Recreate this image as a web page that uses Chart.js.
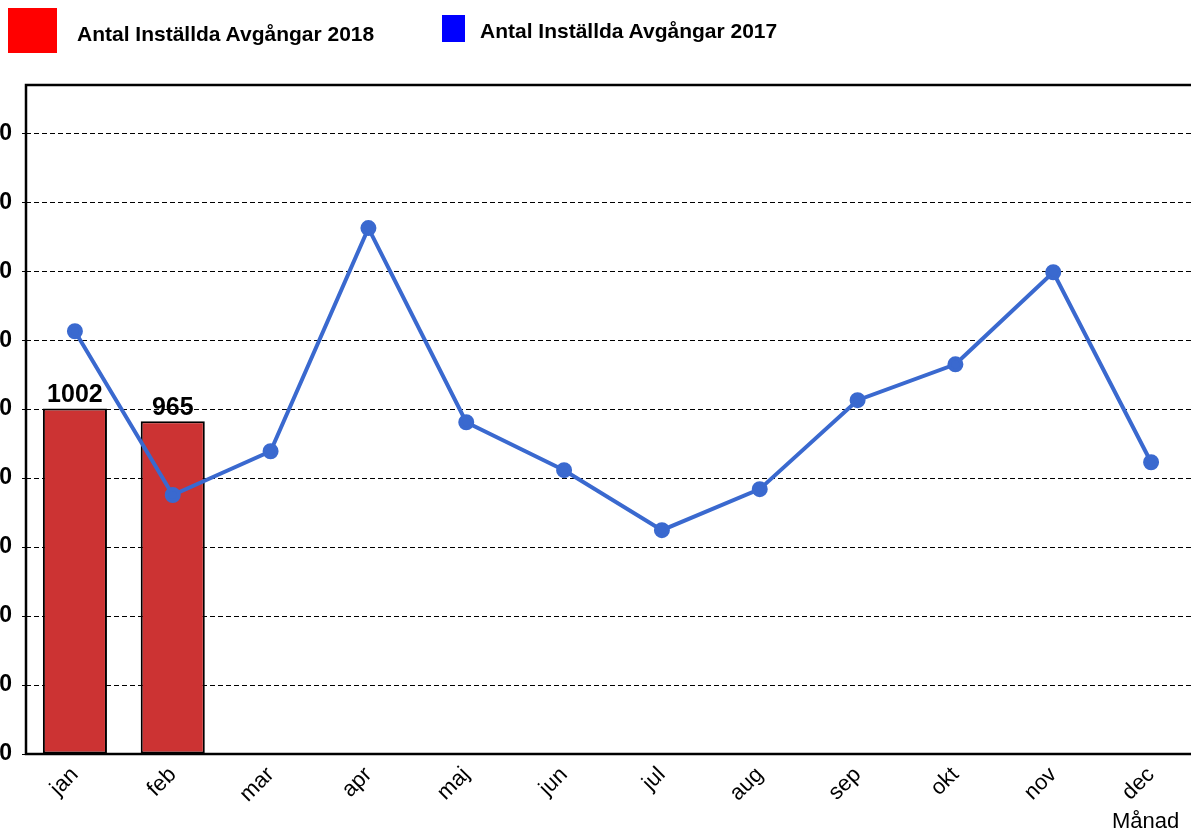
<!DOCTYPE html>
<html>
<head>
<meta charset="utf-8">
<script src="https://cdn.jsdelivr.net/npm/chart.js@4/dist/chart.umd.min.js"></script>
<style>
    body { margin: 0; background: #fff; overflow: hidden; font-family: "Liberation Sans", Arial, sans-serif; }
    #wrap { position: relative; width: 1191px; height: 831px; overflow: hidden; }
    #box { position: absolute; left: -40px; top: 0; width: 1250px; height: 831px; }
    .key { position: absolute; }
    .lbl { position: absolute; font-weight: bold; font-size: 21px; color: #000; white-space: nowrap; }
    #axisTitle { position: absolute; left: 1112px; top: 808px; font-size: 22px; color: #000; }
</style>
</head>
<body>
<div id="wrap">
    <div id="box"><canvas id="chart"></canvas></div>
    <div class="key" style="left:8px;top:8px;width:49px;height:45px;background:#ff0000"></div>
    <div class="lbl" id="lbl2018" style="left:77px;top:22px"></div>
    <div class="key" style="left:442px;top:15px;width:23px;height:27px;background:#0000ff"></div>
    <div class="lbl" id="lbl2017" style="left:480px;top:19px"></div>
    <div id="axisTitle">Månad</div>
</div>

<script>
// DATA

const months = ["jan", "feb", "mar", "apr", "maj", "jun", "jul", "aug", "sep", "okt", "nov", "dec"];
const cancelled2018 = [1002, 965];
const cancelled2017 = [1226, 751, 878, 1525, 962, 823, 649, 768, 1026, 1130, 1397, 846];
const label2018 = "Antal Inställda Avgångar 2018";
const label2017 = "Antal Inställda Avgångar 2017";

document.getElementById("lbl2018").innerText = label2018;
document.getElementById("lbl2017").innerText = label2017;

const FONT = "'Liberation Sans', Arial, sans-serif";

// FRAME + BAR VALUES

const framePlugin = {
    id: "frame",
    beforeDatasetsDraw(chart) {
        const { ctx, chartArea } = chart;
        ctx.save();
        ctx.strokeStyle = "#000";
        ctx.lineWidth = 2.5;
        ctx.strokeRect(chartArea.left, chartArea.top, chartArea.right - chartArea.left, chartArea.bottom - chartArea.top);
        ctx.restore();
    }
};

const valuePlugin = {
    id: "values",
    afterDatasetsDraw(chart) {
        const { ctx } = chart;
        const meta = chart.getDatasetMeta(0);
        ctx.save();
        ctx.font = "bold 25px " + FONT;
        ctx.fillStyle = "#000";
        ctx.textAlign = "center";
        ctx.textBaseline = "bottom";
        meta.data.forEach((bar, i) => {
            ctx.fillText(String(cancelled2018[i]), bar.x, bar.y - 1);
        });
        ctx.restore();
    }
};

// CHART

new Chart(document.getElementById("chart"), {
    type: "bar",
    data: {
        labels: months,
        datasets: [
            {
                type: "bar",
                label: label2018,
                data: cancelled2018,
                backgroundColor: "#cc3333",
                borderColor: "#000",
                borderWidth: 2,
                borderSkipped: false,
                categoryPercentage: 1,
                barPercentage: 0.655,
                order: 1
            },
            {
                type: "line",
                label: label2017,
                data: cancelled2017,
                borderColor: "#3a69cf",
                backgroundColor: "#3a69cf",
                borderWidth: 4,
                pointRadius: 6,
                pointHoverRadius: 6,
                tension: 0,
                order: 0
            }
        ]
    },
    options: {
        responsive: true,
        maintainAspectRatio: false,
        animation: false,
        layout: { padding: { top: 85, right: 1, left: 0, bottom: 0 } },
        plugins: { legend: { display: false }, tooltip: { enabled: false } },
        scales: {
            x: {
                offset: true,
                grid: { display: false, drawTicks: false },
                border: { display: false },
                ticks: {
                    color: "#000",
                    font: { family: FONT, size: 22 },
                    minRotation: 45,
                    maxRotation: 45,
                    padding: 8
                },
                afterFit(scale) { scale.height = 77; }
            },
            y: {
                min: 0,
                max: 1940,
                grid: {
                    color: "#000",
                    lineWidth: 1,
                    tickLength: 4,
                    tickColor: "#000"
                },
                border: { display: false, dash: [5, 3] },
                ticks: {
                    stepSize: 200,
                    color: "#000",
                    font: { family: FONT, size: 23, weight: "bold" },
                    padding: 10
                },
                afterBuildTicks(scale) {
                    scale.ticks = scale.ticks.filter(t => t.value % 200 === 0);
                },
                afterFit(scale) { scale.width = 66; }
            }
        }
    },
    plugins: [framePlugin, valuePlugin]
});
</script>
</body>
</html>
